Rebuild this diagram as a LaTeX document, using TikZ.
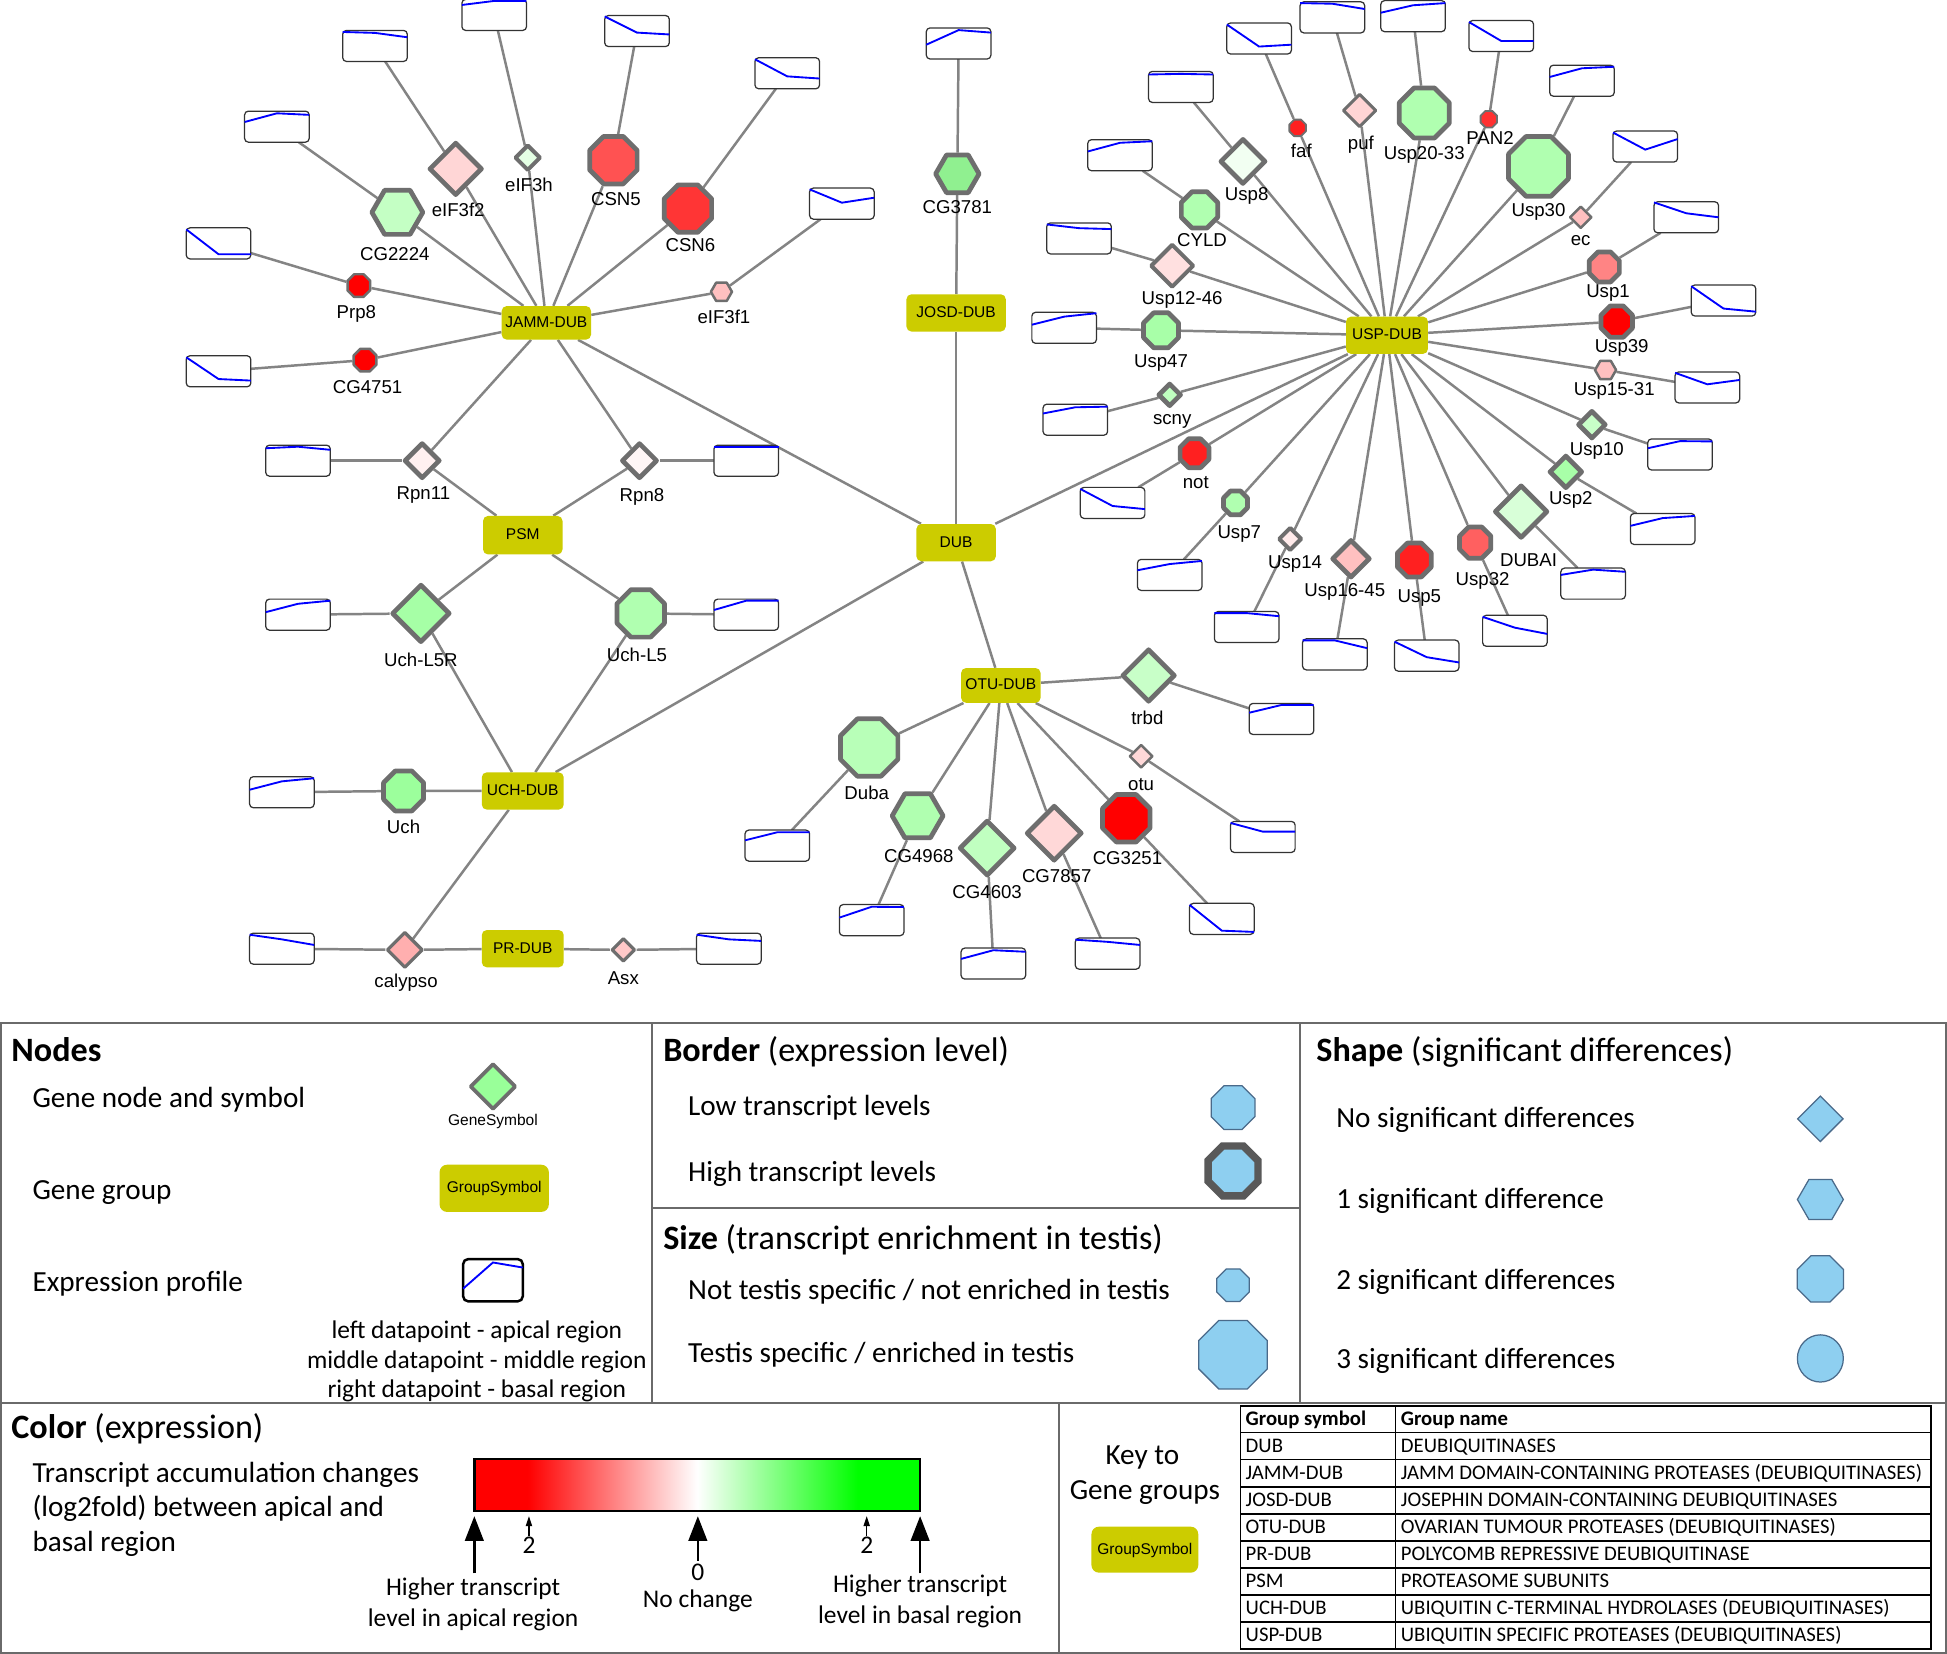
\documentclass[tikz,border=0pt]{standalone}
\usepackage{fontspec}
\setmainfont{Carlito}
\newfontfamily\arialf{Liberation Sans}
\usetikzlibrary{shapes.geometric,backgrounds,calc,arrows.meta}
\definecolor{edgec}{HTML}{848484}
\definecolor{bordc}{HTML}{6E6E6E}
\definecolor{grpc}{HTML}{CCCC00}
\definecolor{legb}{HTML}{8ECFF0}
\definecolor{legbd}{HTML}{4A6A8A}
\definecolor{framec}{HTML}{6A6A6A}
\definecolor{profb}{HTML}{0000FF}
\pgfdeclarehorizontalshading{rgbar}{100bp}{color(0bp)=(red); color(31bp)=(red); color(50bp)=(white); color(68bp)=(green); color(100bp)=(green)}
\newcommand\gene[6]{\definecolor{tmpfill}{HTML}{#4}\node[gn,#2,fill=tmpfill] (#1) at (#3) {};\node[lbl] (#1-l) at (#5) {#6};}
\newcommand\prof[5]{\node[pbox] (#1-p) at (#2) {};
 \draw[pline] ($(#1-p.north west)!#3!(#1-p.south west)$) -- ($(#1-p.north)!#4!(#1-p.south)$) -- ($(#1-p.north east)!#5!(#1-p.south east)$);}
\tikzset{
 gn/.style={draw=bordc, line join=round, inner sep=0pt},
 octo/.style={regular polygon, regular polygon sides=8, minimum size={1.08*(#1)-4}},
 hexa/.style={regular polygon, regular polygon sides=6, minimum size={#1-3}},
 diam/.style={diamond, aspect=1, minimum size={#1-3}},
 thk/.style={line width=3.8pt},
 thn/.style={line width=2pt},
 lbl/.style={font=\arialf\fontsize{15}{17}\selectfont, inner sep=0pt, text height=.72em, text depth=0pt, yshift=-2pt},
 grp/.style={fill=grpc, rounded corners=4pt, inner sep=0pt, font=\arialf\fontsize{12.5}{14}\selectfont, text height=.72em, text depth=0pt, minimum width=64pt, minimum height=30pt},
 pbox/.style={draw=black!80, line width=1pt, rounded corners=3pt, fill=white, minimum width=52pt, minimum height=25pt, inner sep=0pt, outer sep=0pt},
 pline/.style={draw=profb, line width=1.5pt},
 lnk/.style={draw=edgec, line width=2pt},
 lh/.style={font=\fontsize{27.5}{31}\selectfont, anchor=west, inner sep=0pt, text height=.64em, text depth=0pt, yshift=-5pt},
 lt/.style={font=\fontsize{23.5}{27}\selectfont, anchor=west, inner sep=0pt, text height=.64em, text depth=0pt, yshift=-5pt},
 ltc/.style={font=\fontsize{20.5}{24}\selectfont, inner sep=0pt, text height=.64em, text depth=0pt, yshift=-4pt},
 tabt/.style={font=\fontsize{16.7}{19}\selectfont, anchor=west, inner sep=0pt, text height=.64em, text depth=0pt, yshift=-2pt},
 lshape/.style={draw=legbd, fill=legb, inner sep=0pt, line width=1pt},
 fr/.style={draw=framec, line width=1.5pt},
 bigarr/.style={-{Triangle[width=15pt,length=20pt]}, line width=2pt},
 smallarr/.style={-{Triangle[width=5pt,length=8pt]}, line width=1pt},
}
\begin{document}
\begin{tikzpicture}[x=1pt,y=-1pt]
\useasboundingbox (0,0) rectangle (1568,1332);
% ---------- group nodes
\node[grp, minimum width=72pt, minimum height=27pt] (JAMM) at (440,260) {JAMM-DUB};
\node[grp, minimum width=80pt, minimum height=30pt] (JOSD) at (770,252) {JOSD-DUB};
\node[grp, minimum height=31pt] (PSM) at (421,431) {PSM};
\node[grp] (DUB) at (770,437) {DUB};
\node[grp, minimum width=66pt] (USP) at (1117,270) {USP-DUB};
\node[grp, minimum height=28pt] (OTU) at (806,552) {OTU-DUB};
\node[grp, minimum width=66pt] (UCH) at (421,637) {UCH-DUB};
\node[grp, minimum width=66pt] (PR) at (421,764) {PR-DUB};
% ---------- JAMM
\gene{CG2224}{hexa=44,thk}{320,171}{C4FFC4}{318,204}{CG2224}
\gene{eIF3f2}{diam=46,thk}{367,136}{FFD6D6}{369,169}{eIF3f2}
\gene{eIF3h}{diam=24,line width=3.2pt}{425,127}{E4FFE4}{426,149}{eIF3h}
\gene{CSN5}{octo=42,thk}{494,129}{FF5252}{496,160}{CSN5}
\gene{CSN6}{octo=42,thk}{554,168}{FF3535}{556,197}{CSN6}
\gene{eIF3f1}{hexa=20,thn}{581,235}{FFC0C0}{583,255}{eIF3f1}
\gene{Prp8}{octo=22,thn}{289,230}{FF0000}{287,251}{Prp8}
\gene{CG4751}{octo=22,thn}{294,290}{FF0000}{296,311}{CG4751}
\prof{CG2224}{223,102}{.35}{.07}{.12}
\prof{eIF3f2}{302,37}{.05}{.08}{.22}
\prof{eIF3h}{398,12}{.18}{.05}{.05}
\prof{CSN5}{513,25}{.03}{.55}{.61}
\prof{CSN6}{634,59}{.05}{.6}{.67}
\prof{eIF3f1}{678,164}{.04}{.47}{.31}
\prof{Prp8}{176,196}{.05}{.85}{.85}
\prof{CG4751}{176,299}{.05}{.75}{.8}
% ---------- PSM
\gene{Rpn11}{diam=32,thk}{340,371}{FFF0F0}{341,397}{Rpn11}
\gene{Rpn8}{diam=32,thk}{515,371}{FFF6F6}{517,398}{Rpn8}
\gene{Uch-L5R}{diam=50,thk}{339,494}{A6FFA6}{339,531}{Uch-L5R}
\gene{Uch-L5}{octo=42,thk}{516,494}{B0FFB0}{513,527}{Uch-L5}
\prof{Rpn11}{240,371}{.1}{.05}{.15}
\prof{Rpn8}{601,371}{.05}{.05}{.05}
\prof{Uch-L5R}{240,495}{.42}{.15}{.05}
\prof{Uch-L5}{601,495}{.35}{.05}{.05}
% ---------- UCH / PR
\gene{Uch}{octo=36,thk}{325,637}{9CFF9C}{325,666}{Uch}
\gene{calypso}{diam=32,line width=2.6pt}{326,765}{FFAFAF}{327,790}{calypso}
\gene{Asx}{diam=22,line width=2.6pt}{502,765}{FFC8C8}{502,787}{Asx}
\prof{Uch}{227,638}{.42}{.15}{.05}
\prof{calypso}{227,764}{.05}{.2}{.38}
\prof{Asx}{587,764}{.05}{.2}{.25}
% ---------- JOSD
\gene{CG3781}{hexa=38,thk}{771,140}{90F090}{771,166}{CG3781}
\prof{CG3781}{772,35}{.54}{.07}{.15}
% ---------- OTU
\gene{trbd}{diam=46,thk}{925,544}{C8FFC8}{924,578}{trbd}
\gene{otu}{diam=22,thn}{919,609}{FFD8D8}{919,631}{otu}
\gene{Duba}{octo=50,thk}{700,602}{B8FFB8}{698,638}{Duba}
\gene{CG4968}{hexa=44,thk}{739,657}{B0FFB0}{740,689}{CG4968}
\gene{CG4603}{diam=48,thk}{795,683}{C0FFC0}{795,718}{CG4603}
\gene{CG7857}{diam=48,thk}{849,671}{FFD8D8}{851,705}{CG7857}
\gene{CG3251}{octo=42,thk}{907,659}{FF0000}{908,691}{CG3251}
\prof{trbd}{1032,579}{.3}{.05}{.05}
\prof{otu}{1017,674}{.05}{.33}{.33}
\prof{Duba}{626,681}{.33}{.07}{.07}
\prof{CG4968}{702,741}{.42}{.07}{.08}
\prof{CG4603}{800,776}{.35}{.07}{.12}
\prof{CG7857}{892,768}{.05}{.12}{.22}
\prof{CG3251}{984,740}{.05}{.88}{.92}
% ---------- USP
\gene{Usp47}{octo=32,thk}{935,266}{A8FFA8}{935,290}{Usp47}
\gene{Usp12-46}{diam=38,line width=3.2pt}{944,214}{FFE0E0}{952,240}{Usp12-46}
\gene{CYLD}{octo=33,thk}{966,169}{B0FFB0}{968,193}{CYLD}
\gene{Usp8}{diam=40,thk}{1001,130}{F2FFF2}{1004,156}{Usp8}
\gene{faf}{octo=17,line width=1.5pt}{1045,103}{FF2020}{1048,121}{faf}
\gene{puf}{diam=30,line width=2.4pt}{1095,89}{FFD5D5}{1096,115}{puf}
\gene{Usp20-33}{octo=44,thk}{1147,91}{B0FFB0}{1147,123}{Usp20-33}
\gene{PAN2}{octo=17,line width=1.5pt}{1199,96}{FF3030}{1200,111}{PAN2}
\gene{Usp30}{octo=52,thk}{1239,134}{B0FFB0}{1239,169}{Usp30}
\gene{ec}{diam=21,thn}{1273,175}{FFC0C0}{1273,192}{ec}
\gene{Usp1}{octo=28,thk}{1292,215}{FF8484}{1295,234}{Usp1}
\gene{Usp39}{octo=29,thk}{1302,259}{FF0000}{1306,278}{Usp39}
\gene{Usp15-31}{hexa=20,thn}{1293,298}{FFC0C0}{1300,313}{Usp15-31}
\gene{Usp10}{diam=26,thk}{1282,342}{C8FFC8}{1286,361}{Usp10}
\gene{Usp2}{diam=30,thk}{1261,380}{A8FFA8}{1265,401}{Usp2}
\gene{DUBAI}{diam=46,thk}{1225,412}{D8FFD8}{1231,451}{DUBAI}
\gene{Usp32}{octo=29,thk}{1188,437}{FF6060}{1194,466}{Usp32}
\gene{Usp5}{octo=31,thk}{1139,451}{FF2020}{1143,480}{Usp5}
\gene{Usp16-45}{diam=34,thk}{1088,450}{FFC0C0}{1083,475}{Usp16-45}
\gene{Usp14}{diam=22,line width=3.2pt}{1039,434}{FFEAEA}{1043,452}{Usp14}
\gene{Usp7}{octo=23,thk}{995,405}{B0FFB0}{998,428}{Usp7}
\gene{not}{octo=27,thk}{962,365}{FF2020}{963,388}{not}
\gene{scny}{diam=22,thk}{942,318}{C0FFC0}{944,336}{scny}
\prof{Usp47}{857,264}{.4}{.14}{.03}
\prof{Usp12-46}{869,192}{.05}{.17}{.2}
\prof{CYLD}{902,125}{.38}{.1}{.05}
\prof{Usp8}{951,70}{.1}{.08}{.1}
\prof{faf}{1014,31}{.05}{.76}{.7}
\prof{puf}{1073,14}{.04}{.06}{.23}
\prof{Usp20-33}{1138,13}{.39}{.15}{.08}
\prof{PAN2}{1209,29}{.05}{.66}{.66}
\prof{Usp30}{1274,65}{.38}{.1}{.05}
\prof{ec}{1325,118}{.05}{.6}{.26}
\prof{Usp1}{1358,175}{.02}{.37}{.5}
\prof{Usp39}{1388,242}{.04}{.76}{.86}
\prof{Usp15-31}{1375,312}{.03}{.4}{.26}
\prof{Usp10}{1353,366}{.3}{.07}{.08}
\prof{Usp2}{1339,426}{.4}{.15}{.08}
\prof{DUBAI}{1283,470}{.22}{.05}{.12}
\prof{Usp32}{1220,508}{.05}{.4}{.6}
\prof{Usp5}{1149,528}{.05}{.55}{.72}
\prof{Usp16-45}{1075,527}{.05}{.05}{.3}
\prof{Usp14}{1004,505}{.05}{.05}{.15}
\prof{Usp7}{942,463}{.35}{.15}{.05}
\prof{not}{896,405}{.05}{.6}{.7}
\prof{scny}{866,338}{.3}{.1}{.08}
% ---------- connectors
\begin{pgfonlayer}{background}
\fill[white] (0,0) rectangle (1568,1332);
\foreach \h in {JAMM,JOSD,USP,OTU,UCH} {\draw[lnk] (DUB) -- (\h);}
\foreach \g in {CG2224,eIF3f2,eIF3h,CSN5,CSN6,eIF3f1,Prp8,CG4751} {\draw[lnk] (JAMM) -- (\g) -- (\g-p);}
\draw[lnk] (JAMM) -- (Rpn11) -- (PSM); \draw[lnk] (Rpn11) -- (Rpn11-p);
\draw[lnk] (JAMM) -- (Rpn8) -- (PSM); \draw[lnk] (Rpn8) -- (Rpn8-p);
\draw[lnk] (PSM) -- (Uch-L5R) -- (UCH); \draw[lnk] (Uch-L5R) -- (Uch-L5R-p);
\draw[lnk] (PSM) -- (Uch-L5) -- (UCH); \draw[lnk] (Uch-L5) -- (Uch-L5-p);
\draw[lnk] (UCH) -- (Uch) -- (Uch-p);
\draw[lnk] (UCH) -- (calypso) -- (PR); \draw[lnk] (calypso) -- (calypso-p);
\draw[lnk] (PR) -- (Asx) -- (Asx-p);
\draw[lnk] (JOSD) -- (CG3781) -- (CG3781-p);
\foreach \g in {trbd,otu,Duba,CG4968,CG4603,CG7857,CG3251} {\draw[lnk] (OTU) -- (\g) -- (\g-p);}
\foreach \g in {Usp47,Usp12-46,CYLD,Usp8,faf,puf,Usp20-33,PAN2,Usp30,ec,Usp1,Usp39,Usp15-31,Usp10,Usp2,DUBAI,Usp32,Usp5,Usp16-45,Usp14,Usp7,not,scny} {\draw[lnk] (USP) -- (\g) -- (\g-p);}
\end{pgfonlayer}
% ---------- legend frame
\draw[fr] (1,824) rectangle (1567,1331);
\draw[fr] (525,824) -- (525,1130);
\draw[fr] (1047,824) -- (1047,1130);
\draw[fr] (525,973) -- (1047,973);
\draw[fr] (1,1130) -- (1567,1130);
\draw[fr] (853,1130) -- (853,1331);
% Nodes panel
\node[lh] (hNodes) at (9,847) {\textbf{Nodes}};
\node[lt] (tGene) at (26,884) {Gene node and symbol};
\node[gn, diam=40, fill=green!40, line width=3pt] (legGene) at (397,875) {};
\node[font=\arialf\fontsize{12.5}{14}\selectfont, inner sep=0pt] (legGeneT) at (397,903) {GeneSymbol};
\node[lt] (tGroup) at (26,958) {Gene group};
\node[grp, minimum width=88pt, minimum height=38pt, rounded corners=6pt] (legGrp) at (398,957) {GroupSymbol};
\node[lt] (tProf) at (26,1032) {Expression profile};
\node[pbox, minimum width=48pt, minimum height=34pt, line width=2pt, draw=black, rounded corners=4pt] (leg-p) at (397,1031) {};
\draw[pline] ($(leg-p.north west)!.7!(leg-p.south west)$) -- ($(leg-p.north)!.08!(leg-p.south)$) -- ($(leg-p.north east)!.2!(leg-p.south east)$);
\node[ltc] (dp1) at (384,1071) {left datapoint - apical region};
\node[ltc] (dp2) at (384,1095) {middle datapoint - middle region};
\node[ltc] (dp3) at (384,1118) {right datapoint - basal region};
% Border panel
\node[lh] (hBorder) at (534,847) {\textbf{Border} (expression level)};
\node[lt] (tLow) at (554,890) {Low transcript levels};
\node[lshape, octo=39] (oLow) at (993,892) {};
\node[lt] (tHigh) at (554,943) {High transcript levels};
\node[lshape, octo=44, line width=6pt, draw=black!65] (oHigh) at (993,943) {};
% Size panel
\node[lh] (hSize) at (534,998) {\textbf{Size} (transcript enrichment in testis)};
\node[lt] (tNot) at (554,1038) {Not testis specific / not enriched in testis};
\node[lshape, octo=30] (oSmall) at (993,1035) {};
\node[lt] (tTes) at (554,1089) {Testis specific / enriched in testis};
\node[lshape, octo=59] (oLarge) at (993,1091) {};
% Shape panel
\node[lh] (hShape) at (1060,847) {\textbf{Shape} (significant differences)};
\node[lt] (s0) at (1076,900) {No significant differences};
\node[lshape, diam=40] (sh0) at (1466,901) {};
\node[lt] (s1) at (1076,965) {1 significant difference};
\node[lshape, hexa=40] (sh1) at (1466,966) {};
\node[lt] (s2) at (1076,1030) {2 significant differences};
\node[lshape, octo=41] (sh2) at (1466,1030) {};
\node[lt] (s3) at (1076,1094) {3 significant differences};
\node[lshape, ellipse, minimum width=37pt, minimum height=38pt] (sh3) at (1466,1094) {};
% Color panel
\node[lh] (hColor) at (9,1150) {\textbf{Color} (expression)};
\node[lt] (c1) at (26,1186) {Transcript accumulation changes};
\node[lt] (c2) at (26,1213) {(log2fold) between apical and};
\node[lt] (c3) at (26,1241) {basal region};
\node[shading=rgbar, draw=black, line width=2pt, minimum width=359pt, minimum height=42pt, inner sep=0pt] (bar) at (561.5,1196) {};
\coordinate (a1s) at (382,1267); \coordinate (a1e) at (382,1221);
\coordinate (a2s) at (426,1237); \coordinate (a2e) at (426,1221);
\coordinate (a3s) at (562,1257); \coordinate (a3e) at (562,1221);
\coordinate (a4s) at (698,1237); \coordinate (a4e) at (698,1221);
\coordinate (a5s) at (741,1267); \coordinate (a5e) at (741,1221);
\draw[bigarr] (a1s) -- (a1e);
\draw[smallarr] (a2s) -- (a2e);
\draw[bigarr] (a3s) -- (a3e);
\draw[smallarr] (a4s) -- (a4e);
\draw[bigarr] (a5s) -- (a5e);
\node[ltc] (n2a) at (426,1244) {2};
\node[ltc] (n2b) at (698,1244) {2};
\node[ltc] (n0) at (562,1266) {0};
\node[ltc] (nc) at (562,1287) {No change};
\node[ltc] (ha1) at (381,1278) {Higher transcript};
\node[ltc] (ha2) at (381,1303) {level in apical region};
\node[ltc] (hb1) at (741,1275) {Higher transcript};
\node[ltc] (hb2) at (741,1300) {level in basal region};
% Key panel
\node[font=\fontsize{23.5}{27}\selectfont, inner sep=0pt, text height=.64em, text depth=0pt, yshift=-4pt] (k1) at (920,1172) {Key to};
\node[font=\fontsize{23.5}{27}\selectfont, inner sep=0pt, text height=.64em, text depth=0pt, yshift=-4pt] (k2) at (922,1200) {Gene groups};
\node[grp, minimum width=86pt, minimum height=37pt, rounded corners=6pt] (kGrp) at (922,1248) {GroupSymbol};
\draw[line width=1.5pt] (999,1132) rectangle (1555,1328);
\foreach \i in {1,...,8} {\draw[line width=1.2pt] (999,{1132+21.78*\i}) -- (1555,{1132+21.78*\i});}
\draw[line width=1.2pt] (1124,1132) -- (1124,1328);
\foreach [count=\i from 0] \a/\b in {{\textbf{Group symbol}}/{\textbf{Group name}},DUB/DEUBIQUITINASES,JAMM-DUB/JAMM DOMAIN-CONTAINING PROTEASES (DEUBIQUITINASES),JOSD-DUB/JOSEPHIN DOMAIN-CONTAINING DEUBIQUITINASES,OTU-DUB/OVARIAN TUMOUR PROTEASES (DEUBIQUITINASES),PR-DUB/POLYCOMB REPRESSIVE DEUBIQUITINASE,PSM/PROTEASOME SUBUNITS,UCH-DUB/UBIQUITIN C-TERMINAL HYDROLASES (DEUBIQUITINASES),USP-DUB/UBIQUITIN SPECIFIC PROTEASES (DEUBIQUITINASES)} {
 \node[tabt] (ta\i) at (1003,{1132+21.78*(\i+0.5)}) {\a};
 \node[tabt] (tb\i) at (1128,{1132+21.78*(\i+0.5)}) {\b};
}
\end{tikzpicture}
\end{document}
